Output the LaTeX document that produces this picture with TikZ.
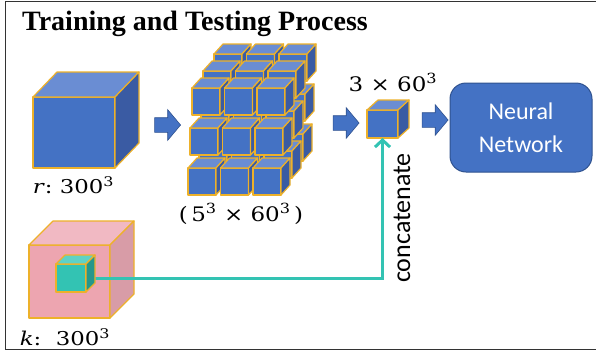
\documentclass[tikz,border=0pt]{standalone}
\usepackage{fontspec}
\usepackage{graphicx}
\usepackage{tikz}
\usetikzlibrary{arrows.meta, shapes.arrows}
\newfontfamily\titlefont{Liberation Serif}
\newfontfamily\calfont{Carlito}
\newfontfamily\labelfont{DejaVu Serif}

\definecolor{cubeblue}{HTML}{4472C4}
\definecolor{cubetop}{HTML}{6A8DD3}
\definecolor{cubeside}{HTML}{3A5BA3}
\definecolor{cubeedge}{HTML}{EDB12A}
\definecolor{boxedge}{HTML}{2F528F}
\definecolor{pinkfront}{HTML}{EDA5B0}
\definecolor{pinktop}{HTML}{F1B9C3}
\definecolor{pinkside}{HTML}{D89CA7}
\definecolor{tealfront}{HTML}{33C3B3}
\definecolor{tealtop}{HTML}{5ED2C5}
\definecolor{tealside}{HTML}{26978B}

\newcommand{\cubesides}[4]{%
    \filldraw[face, fill=#3] (#1.north west) -- ([shift={#2}]#1.north west) -- ([shift={#2}]#1.north east) -- (#1.north east) -- cycle;
    \filldraw[face, fill=#4] (#1.north east) -- ([shift={#2}]#1.north east) -- ([shift={#2}]#1.south east) -- (#1.south east) -- cycle;
}
\newcommand{\wide}[2]{\scalebox{#1}[1]{#2}}

\tikzset{
    face/.style={draw=cubeedge, line width=1.2pt, line join=round, inner sep=0pt, outer sep=0pt},
    flowarrow/.style={single arrow, draw=boxedge, fill=cubeblue, line width=0.6pt, inner sep=7pt,
        single arrow head extend=8pt, single arrow tip angle=100, minimum height=26pt},
    sizelabel/.style={anchor=base, inner sep=0pt, font=\labelfont\fontsize{#1}{24}\selectfont},
}

\begin{document}
\begin{tikzpicture}[x=1pt, y=-1pt]
    \clip (0,0) rectangle (596,351);
    \draw[line width=1.6pt, black!80] (5.5,1.5) rectangle (640,349.5);

    \node[anchor=base west, inner sep=0pt, font=\titlefont\bfseries\fontsize{28}{30}\selectfont] (title) at (22,30) {Training and Testing Process};

    \node[face, fill=cubeblue, minimum width=82pt, minimum height=71pt] (rbox) at (74,132.5) {};
    \cubesides{rbox}{(24,-25)}{cubetop}{cubeside}
    \node[sizelabel=19] (rlab) at (73.5,193) {\wide{1.2}{\textit{r}:\hspace{6pt}300\textsuperscript{3}}};

    \node[flowarrow] (a1) at (164.5,125) {};

    \foreach \l/\lx/\ly in {2/22/34, 1/11/17, 0/0/0}
        \foreach \r in {2,1,0}
            \foreach \c in {0,1,2} {
                \node[face, fill=cubeblue, minimum width=28pt, minimum height=27pt] (g\l\r\c) at ({206+32.5*\c+\lx-2*\r}, {101.5+40*\r-\ly}) {};
                \cubesides{g\l\r\c}{(9,-10)}{cubetop}{cubeside}
            }
    \node[sizelabel=20] (glab) at (241,221) {\wide{1.15}{(\hspace{3pt}5\textsuperscript{3} × 60\textsuperscript{3}\hspace{3pt})}};

    \node[flowarrow] (a2) at (343,123) {};

    \node[face, fill=cubeblue, minimum width=31pt, minimum height=28pt] (sc) at (382.5,124) {};
    \cubesides{sc}{(11,-10)}{cubetop}{cubeside}
    \node[sizelabel=20] (slab) at (393,91.5) {\wide{1.15}{3 × 60\textsuperscript{3}}};

    \node[flowarrow] (a3) at (432,120) {};

    \node[fill=cubeblue, draw=boxedge, line width=1pt, rounded corners=16pt, minimum width=142pt, minimum height=89pt,
        align=center, text=white, font=\calfont\fontsize{24}{33}\selectfont] (net) at (521,127.5) {Neural\\Network};

    \node[face, fill=pinkfront, minimum width=81pt, minimum height=73pt] (kbox) at (69.5,281.5) {};
    \cubesides{kbox}{(24,-24)}{pinktop}{pinkside}
    \node[sizelabel=19] (klab) at (65,345) {\wide{1.2}{\textit{k}:\hspace{12pt}300\textsuperscript{3}}};

    \draw[tealfront, line width=3pt, -{Straight Barb[length=7pt, width=15pt]}] (71,278) -| (sc.south);

    \node[face, fill=tealfront, minimum width=30pt, minimum height=28pt] (kc) at (71,278) {};
    \cubesides{kc}{(9,-9)}{tealtop}{tealside}

    \node[rotate=90, inner sep=0pt, font=\calfont\fontsize{26}{30}\selectfont] (cat) at (402,218) {concatenate};
\end{tikzpicture}
\end{document}
